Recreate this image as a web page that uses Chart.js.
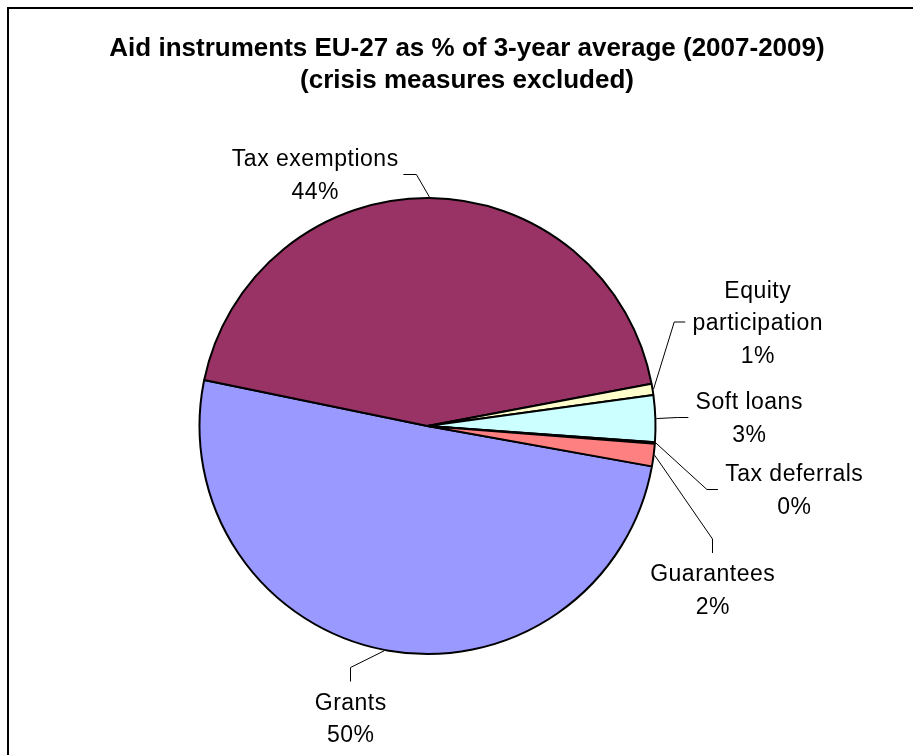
<!DOCTYPE html>
<html>
<head>
<meta charset="utf-8">
<title>Aid instruments EU-27</title>
<script src="https://cdn.jsdelivr.net/npm/chart.js@4.4.1/dist/chart.umd.min.js"></script>
<style>
  html, body { margin: 0; padding: 0; background: #fff; overflow: hidden; }
  #aid_frame { position: absolute; left: 7px; top: 7px; width: 916px; height: 760px; border: 2px solid #000; }
  canvas { display: block; }
</style>
</head>
<body>
<div id="aid_frame"><canvas id="aid_pie_chart" width="916" height="760"></canvas></div>
<script>
// aid instruments, share of the 2007-2009 average (%)
const instrument_labels = ["Grants", "Tax exemptions", "Equity participation", "Soft loans", "Tax deferrals", "Guarantees"];
const instrument_shares = [50.4, 43.8, 0.8, 3.3, 0.1, 1.6];
const slice_colors = ["#9999FF", "#993366", "#FFFFCC", "#CCFFFF", "#660066", "#FF8080"];

const title_lines = ["Aid instruments EU-27 as % of 3-year average (2007-2009)", "(crisis measures excluded)"];

// label block centres relative to the pie centre + side the leader line hooks on
const label_spots = [
  { dx: -77, dy: 292, side: "top" },
  { dx: -112.5, dy: -251.5, side: "right" },
  { dx: 330, dy: -104, side: "left" },
  { dx: 321.5, dy: -8.5, side: "left" },
  { dx: 366.5, dy: 63.5, side: "left" },
  { dx: 285, dy: 163.5, side: "top" },
];

const FONT = "'Liberation Sans', Arial, Helvetica, sans-serif";
const LABEL_SIZE = 23;
const LINE_H = 32.5;
const CAP_HALF = LABEL_SIZE * 0.358;

function wrapWords(ctx, text, maxWidth) {
  const words = text.split(" ");
  const lines = [];
  let cur = "";
  words.forEach(w => {
    const test = cur ? cur + " " + w : w;
    if (cur && ctx.measureText(test).width > maxWidth) {
      lines.push(cur);
      cur = w;
    } else {
      cur = test;
    }
  });
  if (cur) lines.push(cur);
  return lines;
}

const pieTitle = {
  id: "pieTitle",
  afterDraw(chart) {
    const ctx = chart.ctx;
    ctx.save();
    ctx.font = "bold 26px " + FONT;
    ctx.fillStyle = "#000";
    ctx.textAlign = "center";
    ctx.textBaseline = "alphabetic";
    ctx.fillText(title_lines[0], 458, 47);
    ctx.fillText(title_lines[1], 458, 79);
    ctx.restore();
  }
};

const pieLabels = {
  id: "pieLabels",
  afterDatasetsDraw(chart) {
    const ctx = chart.ctx;
    const meta = chart.getDatasetMeta(0);
    const data = chart.data.datasets[0].data;
    const total = data.reduce((a, b) => a + b, 0);
    ctx.save();
    ctx.font = LABEL_SIZE + "px " + FONT;
    ctx.letterSpacing = "0.5px";
    ctx.fillStyle = "#000";
    ctx.strokeStyle = "#000";
    ctx.lineWidth = 1;
    ctx.textAlign = "center";
    ctx.textBaseline = "alphabetic";

    meta.data.forEach((arc, i) => {
      const p = arc.getProps(["x", "y", "startAngle", "endAngle", "outerRadius"], true);
      const mid = (p.startAngle + p.endAngle) / 2;
      const rimX = p.x + Math.cos(mid) * (p.outerRadius + 1);
      const rimY = p.y + Math.sin(mid) * (p.outerRadius + 1);

      const lines = wrapWords(ctx, chart.data.labels[i], 180);
      lines.push(Math.round(data[i] / total * 100) + "%");
      const spot = label_spots[i];
      const cx = p.x + spot.dx;
      const cy = p.y + spot.dy;
      const w = Math.max(...lines.map(l => ctx.measureText(l).width));
      const n = lines.length;

      // hook point on the label and an elbow a bit further out
      let hx, hy, ex, ey;
      if (spot.side === "left") {
        hx = cx - w / 2 - 7; hy = cy; ex = hx - 11; ey = hy;
      } else if (spot.side === "right") {
        hx = cx + w / 2 + 5; hy = cy; ex = hx + 13; ey = hy;
      } else {
        hx = cx; hy = cy - (n - 1) * LINE_H / 2 - CAP_HALF - 12; ex = hx; ey = hy - 14;
      }
      ctx.beginPath();
      ctx.moveTo(rimX, rimY);
      ctx.lineTo(ex, ey);
      ctx.lineTo(hx, hy);
      ctx.stroke();

      lines.forEach((line, k) => {
        const by = cy + (k - (n - 1) / 2) * LINE_H + CAP_HALF;
        ctx.fillText(line, cx + 0.25, by);
      });
    });
    ctx.restore();
  }
};

const aid_pie_canvas = document.getElementById("aid_pie_chart");

const aidPieChart = new Chart(aid_pie_canvas, {
  type: "pie",
  data: {
    labels: instrument_labels,
    datasets: [
      {
        data: instrument_shares,
        backgroundColor: slice_colors,
        borderColor: "#000",
        borderWidth: 2,
        radius: 228,
        rotation: 100.2,
      },
    ],
  },
  options: {
    responsive: false,
    animation: false,
    layout: { padding: { left: 0, right: 79, top: 100, bottom: 26 } },
    plugins: {
      legend: { display: false },
      title: { display: false },
      tooltip: { enabled: false },
    },
  },
  plugins: [pieLabels, pieTitle],
});
</script>
</body>
</html>
